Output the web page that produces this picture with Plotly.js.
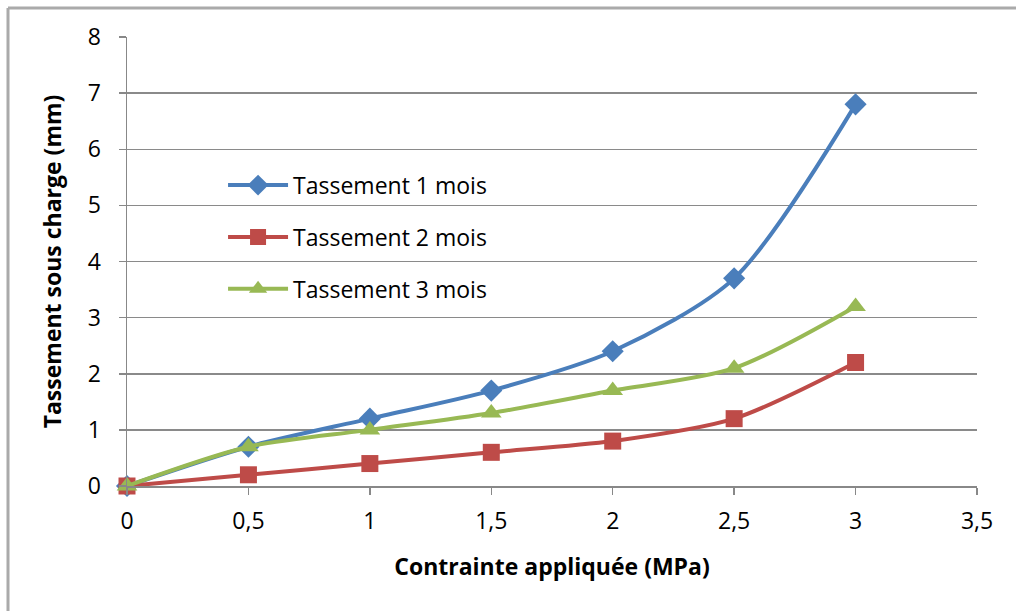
<!DOCTYPE html>
<html>
<head>
<meta charset="utf-8">
<script src="https://cdn.plot.ly/plotly-3.0.1.min.js"></script>
<style>html,body{margin:0;padding:0;background:#fff;}#chart{width:1016px;height:611px;}</style>
</head>
<body>
<div id="chart"></div>
<script>
const contrainte = [0, 0.5, 1, 1.5, 2, 2.5, 3];
const tassement1 = [0, 0.7, 1.2, 1.7, 2.4, 3.7, 6.8];
const tassement2 = [0, 0.2, 0.4, 0.6, 0.8, 1.2, 2.2];
const tassement3 = [0, 0.7, 1.0, 1.3, 1.7, 2.1, 3.2];
const seriesNames = ["Tassement 1 mois", "Tassement 2 mois", "Tassement 3 mois"];
const xTicks = [0, 0.5, 1, 1.5, 2, 2.5, 3, 3.5];
const xTickText = ["0", "0,5", "1", "1,5", "2", "2,5", "3", "3,5"];
const yTicks = [0, 1, 2, 3, 4, 5, 6, 7, 8];

const font = "Open Sans, Noto Sans, sans-serif";
function tr(y, name, color, symbol, size, group) {
  return {
    x: contrainte, y: y, name: name, type: "scatter", mode: "lines+markers",
    line: {color: color, width: 4, shape: "spline", smoothing: 0.8},
    marker: {color: color, symbol: symbol, size: size},
    legendgroup: group, cliponaxis: false
  };
}
const data = [
  tr(tassement1, seriesNames[0], "#4a7ebb", "diamond", 17, "g1"),
  tr(tassement2, seriesNames[1], "#be4b48", "square", 17, "g2"),
  tr(tassement3, seriesNames[2], "#98b954", "triangle-up", 18, "g3")
];
const layout = {
  width: 1016, height: 611,
  margin: {l: 127, r: 39, t: 37, b: 125},
  paper_bgcolor: "#fff", plot_bgcolor: "#fff",
  font: {family: font, color: "#000"},
  showlegend: true,
  legend: {x: 0.113, y: 0.718, xanchor: "left", yanchor: "top", bgcolor: "rgba(0,0,0,0)",
           font: {size: 23, family: font}, tracegroupgap: 19, itemwidth: 60},
  xaxis: {
    range: [0, 3.5], tickvals: xTicks, ticktext: xTickText,
    showgrid: false, zeroline: false, showline: true, linecolor: "#888", linewidth: 1.5,
    ticks: "outside", ticklen: 7, tickcolor: "#888", tickwidth: 1.5,
    tickfont: {size: 23, family: font}, ticklabelstandoff: 7,
    title: {text: "<b>Contrainte appliquée (MPa)</b>", font: {size: 23, family: font}, standoff: 24}
  },
  yaxis: {
    range: [0, 8], tickvals: yTicks,
    showgrid: true, gridcolor: "#8a8a8a", gridwidth: 1.5, zeroline: false,
    showline: true, linecolor: "#888", linewidth: 1.5,
    ticks: "outside", ticklen: 7, tickcolor: "#888", tickwidth: 1.5,
    tickfont: {size: 23, family: font}, ticklabelstandoff: 13,
    title: {text: "<b>Tassement sous charge (mm)</b>", font: {size: 23, family: font}, standoff: 19}
  },
  shapes: [
    {type: "line", xref: "paper", yref: "paper", x0: -0.14, x1: 1.1, y0: 1.0646, y1: 1.0646, line: {color: "#aaa", width: 3}},
    {type: "line", xref: "paper", yref: "paper", x0: -0.14, x1: -0.14, y0: 1.0646, y1: -0.3, line: {color: "#aaa", width: 3}}
  ]
};
Plotly.newPlot("chart", data, layout, {displayModeBar: false, staticPlot: true});
</script>
</body>
</html>
